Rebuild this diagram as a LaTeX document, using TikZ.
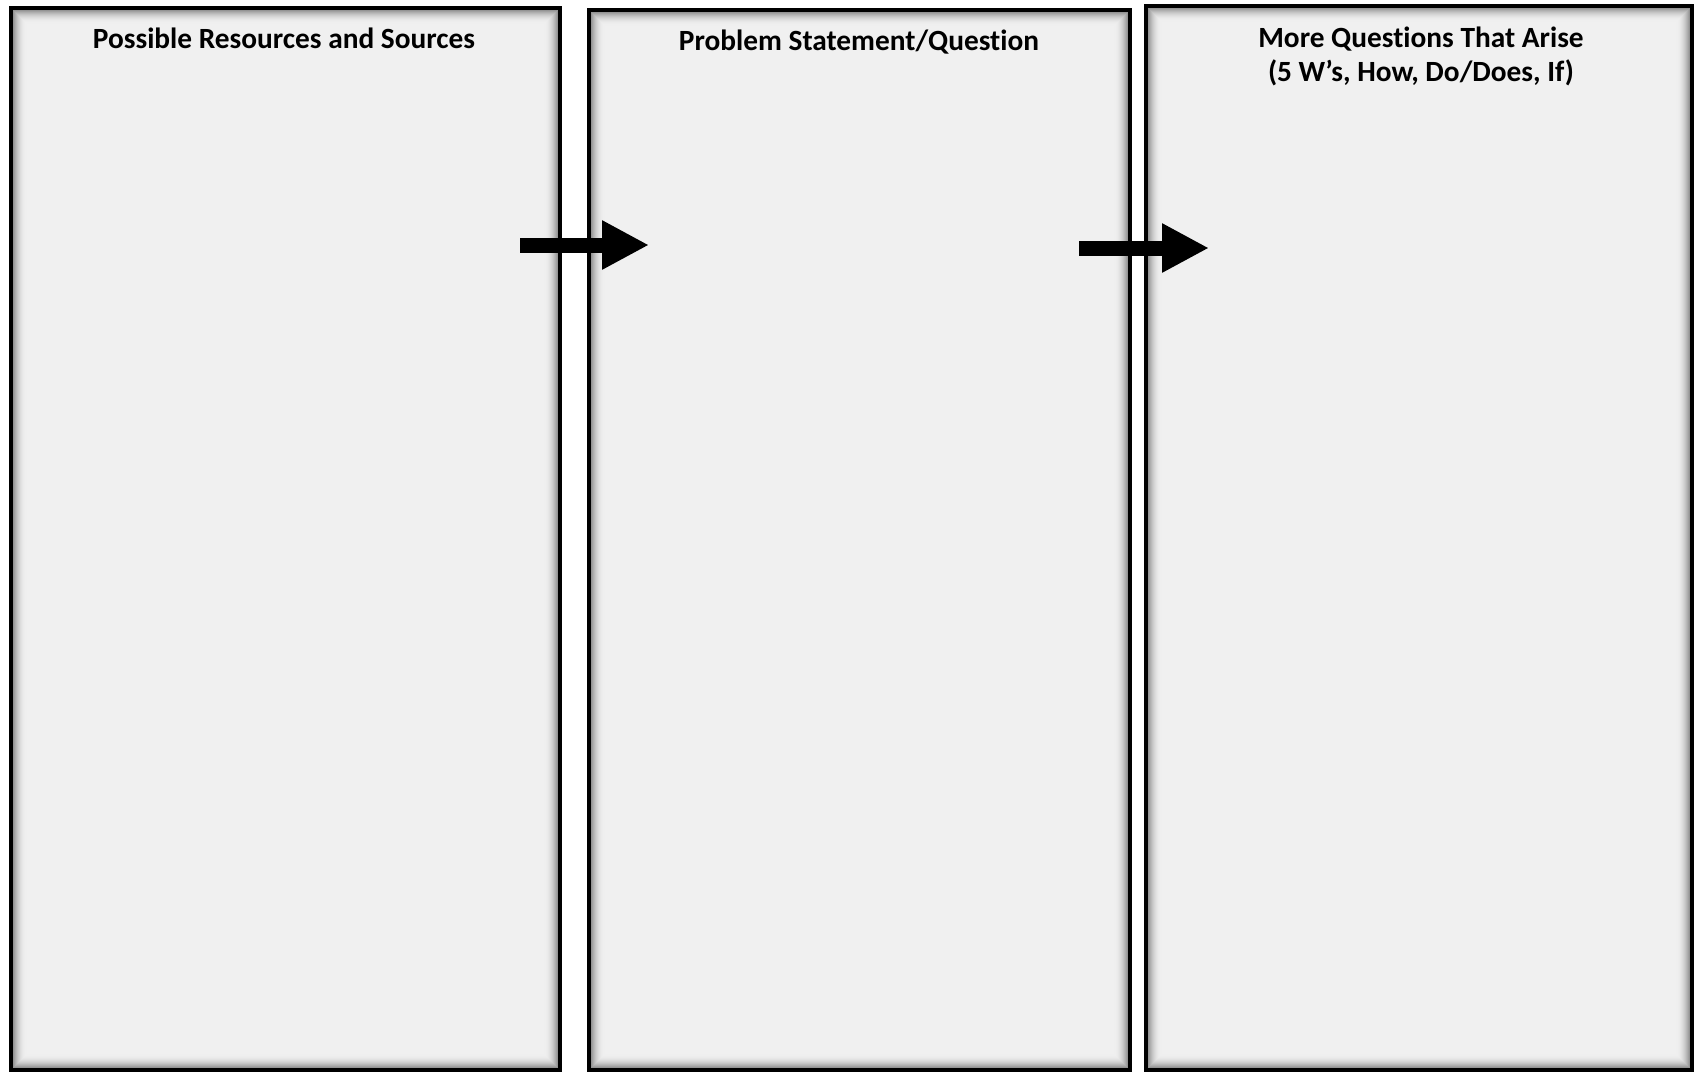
\documentclass[tikz,border=0pt]{standalone}
\usepackage{fontspec}
\setmainfont{Carlito}[Ligatures=CommonOff]
\usetikzlibrary{arrows.meta}

\begin{document}
\begin{tikzpicture}[
    x=0.02cm, y=-0.02cm,
    panel/.style={rectangle, draw=black, line width=0.08cm, fill=black!6, anchor=north west, inner sep=0pt, outer sep=0pt},
    heading/.style={font=\fontsize{16.7}{19.4}\selectfont\bfseries, align=center},
    bigarrow/.style={line width=0.3cm, -{Triangle[length=0.94cm, width=0.92cm]}}
]
\useasboundingbox[fill=white] (0,0) rectangle (1694,1073);

% Panels
\node[panel, minimum width=549*0.02cm, minimum height=1062*0.02cm] (res) at (11,8) {};
\node[panel, minimum width=541*0.02cm, minimum height=1060*0.02cm] (prob) at (589,10) {};
\node[panel, minimum width=546*0.02cm, minimum height=1064*0.02cm] (more) at (1146,6) {};

% Inner shadow
\foreach \b in {res,prob,more} {
  \foreach \i in {1,...,14} {
    \pgfmathsetmacro{\shade}{6+48*(1-\i/15)^2}
    \draw[black!\shade, line width=0.025cm]
      ([shift={(\i+1,\i+1)}]\b.north west) rectangle ([shift={(-\i-1,-\i-1)}]\b.south east);
  }
  \draw[line width=0.08cm] (\b.north west) rectangle (\b.south east);
}

% Headings
\node[heading] (restitle) at (284,38) {Possible Resources and Sources};
\node[heading] (probtitle) at (859,42) {Problem Statement/Question};
\node[heading] (moretitle) at (1421,56) {More Questions That Arise\\(5 W’s, How, Do/Does, If)};

% Arrows
\coordinate (a1s) at (520,245);
\coordinate (a1e) at (649,245);
\coordinate (a2s) at (1079,248);
\coordinate (a2e) at (1209,248);
\draw[bigarrow] (a1s) -- (a1e);
\draw[bigarrow] (a2s) -- (a2e);

\end{tikzpicture}
\end{document}
